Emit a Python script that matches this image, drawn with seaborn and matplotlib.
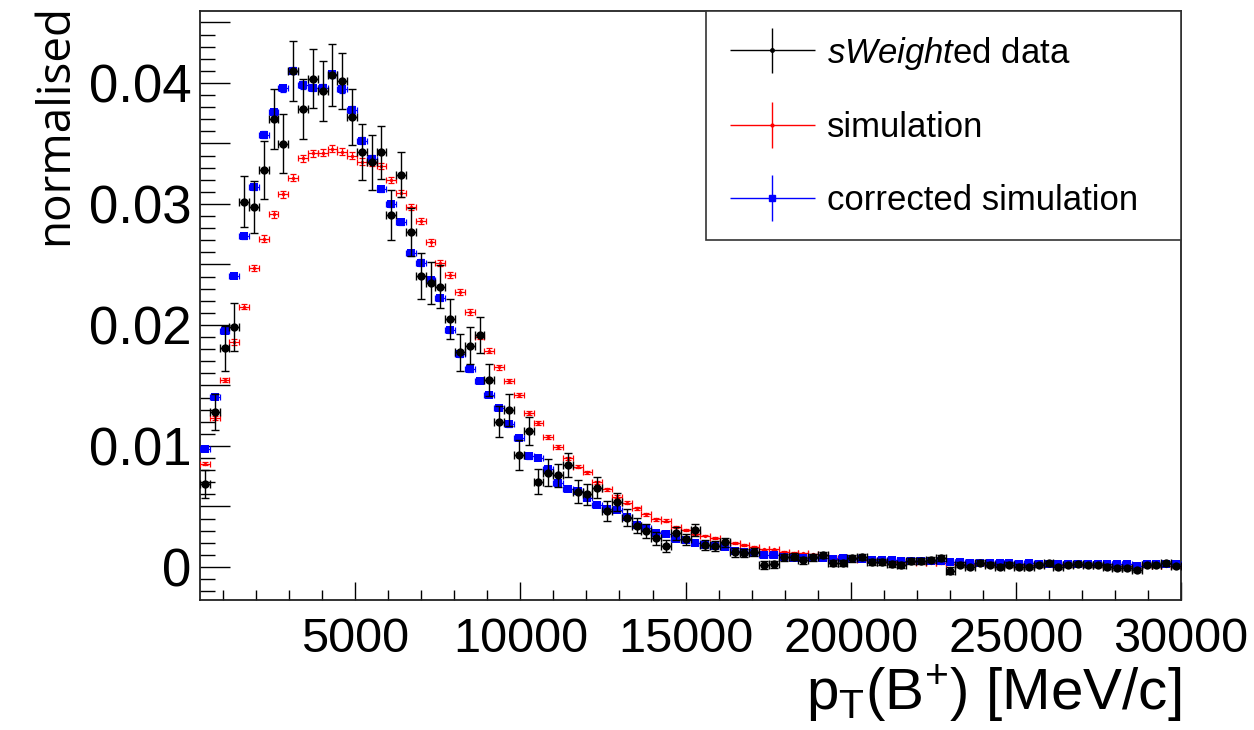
import numpy as np
import matplotlib
matplotlib.use("Agg")
import matplotlib.pyplot as plt
import seaborn as sns
from matplotlib.ticker import MultipleLocator, FuncFormatter
from matplotlib.legend_handler import HandlerErrorbar
from matplotlib.container import ErrorbarContainer

# ---------------- data ----------------
bin_lo, bin_hi, n_bins = 300, 30000, 100
x_ticks_major = [5000, 10000, 15000, 20000, 25000, 30000]

data_vals = [0.00686, 0.01284, 0.01807, 0.01986, 0.03017, 0.02978, 0.03281, 0.0370, 0.03499, 0.04102,
             0.03785, 0.04036, 0.03934, 0.04066, 0.04019, 0.03722, 0.03427, 0.03345, 0.03427, 0.02909,
             0.0324, 0.02766, 0.02408, 0.02345, 0.02317, 0.0205, 0.01774, 0.01829, 0.01917, 0.01545,
             0.01201, 0.01298, 0.00926, 0.01127, 0.00705, 0.0078, 0.00758, 0.00843, 0.00622, 0.00601,
             0.00655, 0.00465, 0.0054, 0.00407, 0.00341, 0.0030, 0.00237, 0.00174, 0.00278, 0.00229,
             0.00306, 0.00182, 0.00174, 0.00204, 0.00121, 0.00113, 0.00121, 0.00017, 0.00022, 0.0008,
             0.00085, 0.00055, 0.0008, 0.0010, 0.00035, 0.00035, 0.0007, 0.0008, 0.00044, 0.0004,
             0.00025, 0.00015, 0.00048, 0.0005, 0.0006, 0.00075, -0.0003, 0.00017, 0.0, 0.00036,
             0.00017, 0.00003, 0.00017, 0.00003, 0.0, 0.00017, 0.0003, 0.0, 0.00017, 0.00025,
             0.00017, 0.00017, 0.00003, -0.0001, -0.0001, -0.00025, 0.00017, 0.00017, 0.0003, 0.0001]
data_err = [0.00116, 0.00149, 0.00186, 0.00198, 0.00211, 0.00215, 0.00237, 0.00248, 0.00245, 0.00248,
            0.00248, 0.00244, 0.00248, 0.00256, 0.00231, 0.00231, 0.00231, 0.00227, 0.00219, 0.00207,
            0.00186, 0.00198, 0.0019, 0.00174, 0.00179, 0.00165, 0.00155, 0.00155, 0.00147, 0.00132,
            0.00126, 0.00132, 0.00124, 0.00116, 0.00105, 0.0011, 0.00097, 0.00097, 0.00097, 0.00085,
            0.00087, 0.00083, 0.00074, 0.00069, 0.00062, 0.00058, 0.00054, 0.0005, 0.00054, 0.00045,
            0.0005, 0.0004, 0.00038, 0.00038, 0.00035, 0.00033, 0.00033, 0.0003, 0.0003, 0.0003,
            0.00028, 0.00027, 0.00027, 0.00026, 0.00025, 0.00025, 0.00025, 0.00024, 0.00024, 0.00023,
            0.00023, 0.00022, 0.00022, 0.00022, 0.00022, 0.00024, 0.00028, 0.0002, 0.0002, 0.0002,
            0.0002, 0.0002, 0.0002, 0.0002, 0.00018, 0.00018, 0.00018, 0.00018, 0.00018, 0.00018,
            0.00018, 0.00018, 0.00018, 0.00018, 0.00018, 0.0002, 0.00018, 0.00018, 0.00018, 0.00018]

sim_vals = [0.00854, 0.01231, 0.01545, 0.0186, 0.02152, 0.02471, 0.02714, 0.02915, 0.0308, 0.03218,
            0.03378, 0.03419, 0.03424, 0.03455, 0.03432, 0.03397, 0.0335, 0.0334, 0.03314, 0.03198,
            0.03088, 0.02977, 0.02861, 0.02682, 0.02512, 0.02416, 0.02273, 0.02105, 0.01903, 0.01788,
            0.0165, 0.01537, 0.01421, 0.0127, 0.01193, 0.01077, 0.0099, 0.00898, 0.00829, 0.00782,
            0.0070, 0.00643, 0.00582, 0.00532, 0.00485, 0.00435, 0.00394, 0.00383, 0.00333, 0.00306,
            0.0027, 0.0026, 0.00242, 0.00208, 0.00196, 0.00182, 0.00165, 0.00146, 0.00146, 0.00127,
            0.00118, 0.00113, 0.00105, 0.00095, 0.00077, 0.0007, 0.00065, 0.0006, 0.00055, 0.0005,
            0.00045, 0.0004, 0.00037, 0.00035, 0.00032, 0.0003, 0.00028, 0.00026, 0.00024, 0.00023,
            0.00022, 0.0002, 0.0002, 0.00019, 0.00018, 0.00017, 0.00016, 0.00015, 0.00015, 0.00014,
            0.00013, 0.00013, 0.00012, 0.00012, 0.00011, 0.0001, 0.0001, 0.0001, 0.00009, 0.00009]
sim_err = [0.00014, 0.00017, 0.0002, 0.00022, 0.00023, 0.00025, 0.00026, 0.00027, 0.00028, 0.00028,
           0.00029, 0.00029, 0.00029, 0.00029, 0.00029, 0.00029, 0.00029, 0.00028, 0.00028, 0.00028,
           0.00027, 0.00027, 0.00026, 0.00026, 0.00025, 0.00025, 0.00024, 0.00023, 0.00022, 0.00021,
           0.0002, 0.0002, 0.00019, 0.00018, 0.00017, 0.00017, 0.00016, 0.00015, 0.00015, 0.00014,
           0.00014, 0.00013, 0.00012, 0.00012, 0.00011, 0.0001, 0.0001, 0.0001, 0.00009, 0.00009,
           0.00008, 0.00008, 0.00008, 0.00007, 0.00007, 0.00007, 0.00006, 0.00006, 0.00006, 0.00006,
           0.00005, 0.00005, 0.00005, 0.00005, 0.00004, 0.00004, 0.00004, 0.00004, 0.00004, 0.00004,
           0.00004, 0.00004, 0.00004, 0.00004, 0.00003, 0.00003, 0.00003, 0.00003, 0.00003, 0.00003,
           0.00003, 0.00003, 0.00003, 0.00003, 0.00003, 0.00003, 0.00003, 0.00003, 0.00003, 0.00003,
           0.00003, 0.00003, 0.00003, 0.00003, 0.00003, 0.00003, 0.00003, 0.00003, 0.00003, 0.00003]

corr_vals = [0.00975, 0.01402, 0.01953, 0.02408, 0.02738, 0.03143, 0.03573, 0.03758, 0.03956, 0.04102,
             0.03983, 0.03961, 0.0396, 0.04072, 0.0395, 0.03777, 0.03523, 0.03372, 0.03124, 0.030,
             0.02852, 0.02593, 0.02516, 0.02372, 0.0222, 0.01959, 0.0176, 0.01636, 0.0154, 0.01424,
             0.01314, 0.01179, 0.01066, 0.00914, 0.00903, 0.0081, 0.00695, 0.00643, 0.00625, 0.00573,
             0.00512, 0.00475, 0.00468, 0.00409, 0.00346, 0.0032, 0.00278, 0.00273, 0.00233, 0.00224,
             0.00198, 0.00185, 0.00174, 0.00162, 0.00136, 0.00124, 0.00112, 0.0010, 0.00095, 0.00085,
             0.00077, 0.00075, 0.00072, 0.0007, 0.00068, 0.00075, 0.00068, 0.00064, 0.0006, 0.00058,
             0.00057, 0.00052, 0.00052, 0.0005, 0.0005, 0.00048, 0.00042, 0.00042, 0.0003, 0.00035,
             0.0003, 0.0003, 0.0003, 0.00028, 0.0003, 0.00026, 0.00026, 0.00025, 0.00025, 0.00025,
             0.00025, 0.00025, 0.00025, 0.00025, 0.00025, 0.0001, 0.00025, 0.00025, 0.00025, 0.00022]
corr_err = [0.00014, 0.00017, 0.0002, 0.00022, 0.00024, 0.00026, 0.00027, 0.00028, 0.00029, 0.00029,
            0.0003, 0.0003, 0.0003, 0.0003, 0.0003, 0.0003, 0.00029, 0.00029, 0.00028, 0.00028,
            0.00027, 0.00027, 0.00026, 0.00026, 0.00025, 0.00024, 0.00023, 0.00022, 0.00022, 0.00021,
            0.0002, 0.0002, 0.00019, 0.00018, 0.00017, 0.00016, 0.00015, 0.00015, 0.00014, 0.00013,
            0.00013, 0.00012, 0.00012, 0.00011, 0.00011, 0.0001, 0.0001, 0.0001, 0.00009, 0.00009,
            0.00008, 0.00008, 0.00008, 0.00007, 0.00007, 0.00007, 0.00006, 0.00006, 0.00006, 0.00006,
            0.00005, 0.00005, 0.00005, 0.00005, 0.00005, 0.00005, 0.00005, 0.00005, 0.00005, 0.00005,
            0.00004, 0.00004, 0.00004, 0.00004, 0.00004, 0.00004, 0.00004, 0.00004, 0.00004, 0.00004,
            0.00004, 0.00004, 0.00004, 0.00004, 0.00004, 0.00004, 0.00004, 0.00004, 0.00004, 0.00004,
            0.00004, 0.00004, 0.00004, 0.00004, 0.00004, 0.00004, 0.00004, 0.00004, 0.00004, 0.00004]

edges = np.linspace(bin_lo, bin_hi, n_bins + 1)
centers = 0.5 * (edges[:-1] + edges[1:])
half_w = 0.5 * (edges[1] - edges[0])

# ---------------- style ----------------
sns.set_theme(style="ticks")
plt.rcParams["font.family"] = ["Liberation Sans", "DejaVu Sans"]
plt.rcParams["text.color"] = "black"
plt.rcParams["axes.labelcolor"] = "black"
plt.rcParams["xtick.color"] = "black"
plt.rcParams["ytick.color"] = "black"
plt.rcParams["mathtext.fontset"] = "custom"
plt.rcParams["mathtext.rm"] = "Liberation Sans"
plt.rcParams["mathtext.it"] = "Liberation Sans:italic"
plt.rcParams["mathtext.bf"] = "Liberation Sans:bold"

fig = plt.figure(figsize=(12.54, 7.30), dpi=100)
ax = fig.add_axes([200 / 1254, 1 - 600 / 730, 981 / 1254, 589 / 730])


def draw(vals, errs, color, marker, ms, lw, cap, z):
    ax.errorbar(centers, vals, xerr=half_w, yerr=errs, fmt="none", ecolor=color,
                elinewidth=lw, capsize=cap, capthick=lw, zorder=z)
    sns.scatterplot(x=centers, y=vals, marker=marker, s=ms ** 2, color=color,
                    edgecolor=color, linewidth=0, ax=ax, zorder=z + 0.1, legend=False)


draw(sim_vals, sim_err, "#ff0000", "o", 2.4, 0.9, 2.3, 3)
draw(corr_vals, corr_err, "#0000ff", "s", 5.6, 0.9, 2.3, 4)
draw(data_vals, data_err, "black", "o", 6.0, 1.0, 2.6, 5)

ax.set_xlim(bin_lo, bin_hi)
ax.set_ylim(-0.00273, 0.04595)

ax.set_xticks(x_ticks_major)
ax.xaxis.set_minor_locator(MultipleLocator(1000))
ax.yaxis.set_major_locator(MultipleLocator(0.005))
ax.yaxis.set_minor_locator(MultipleLocator(0.001))


def yfmt(v, _):
    k = int(round(v * 1000))
    if k % 10 != 0:
        return ""
    return "0" if k == 0 else f"{v:.2f}"


ax.yaxis.set_major_formatter(FuncFormatter(yfmt))
ax.xaxis.set_major_formatter(FuncFormatter(lambda v, _: f"{int(round(v))}"))

ax.tick_params(axis="x", which="major", direction="in", length=13, width=1.0, pad=12,
               labelsize=35, top=False)
ax.tick_params(axis="x", which="minor", direction="in", length=7, width=1.0, top=False)
ax.tick_params(axis="y", which="major", direction="in", length=21.5, width=1.0, pad=6,
               labelsize=38, right=False)
ax.tick_params(axis="y", which="minor", direction="in", length=10.8, width=1.0, right=False)

for sp in ax.spines.values():
    sp.set_visible(True)
    sp.set_color("#222222")
    sp.set_linewidth(1.3)

ax.set_xlabel(r"p$_\mathregular{T}$(B$^\mathregular{+}$) [MeV/c]", fontsize=42,
              loc="right", labelpad=0)
fig.text(55 / 1254, 1 - 124 / 730, "normalised", rotation=90, fontsize=33,
         family=["Open Sans", "DejaVu Sans"], ha="center", va="center")

# legend proxies
proxies = []
for lab, col, mk, ms in [(r"$\mathit{sWeight}$ed data", "black", "o", 2.5),
                         ("simulation", "#ff0000", "o", 2.0),
                         ("corrected simulation", "#0000ff", "s", 5.0)]:
    c = ax.errorbar([np.nan], [np.nan], xerr=[1], yerr=[1], fmt=mk, color=col, ms=ms,
                    elinewidth=1.0, capsize=0, label=lab)
    proxies.append(c)

leg = ax.legend(handles=proxies, loc="upper right",
                bbox_to_anchor=(1 - 475 / 981, 0, 475 / 981, 1.0),
                mode="expand", borderaxespad=0, fontsize=25, handlelength=2.45,
                handletextpad=0.35, labelspacing=1.14, borderpad=0.68, fancybox=False,
                framealpha=1, edgecolor="#333333",
                handler_map={ErrorbarContainer: HandlerErrorbar(xerr_size=1.22, yerr_size=0.66,
                                                                numpoints=1)})
leg.get_frame().set_linewidth(1.2)

fig.savefig("out.png", dpi=100)
